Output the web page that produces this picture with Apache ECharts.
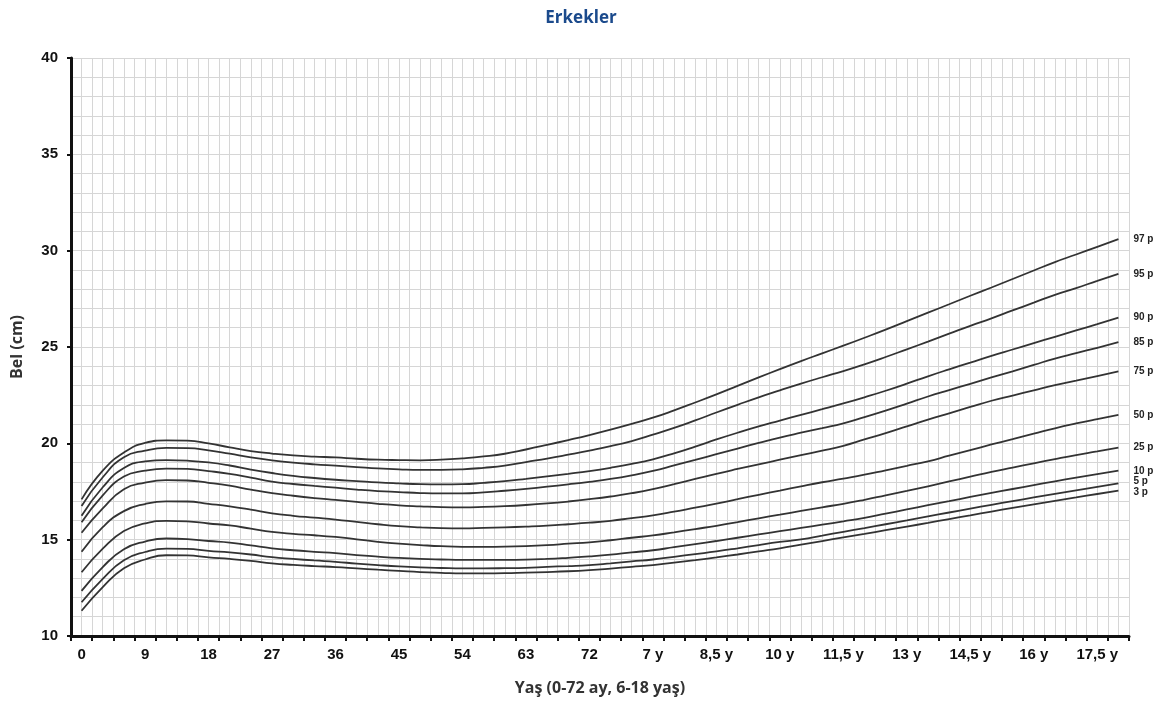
<!DOCTYPE html>
<html>
<head>
<meta charset="utf-8">
<script src="https://cdn.jsdelivr.net/npm/echarts@6/dist/echarts.min.js"></script>
<style>
html,body{margin:0;padding:0;background:#fff;}
#chart{width:1162px;height:703px;}
</style>
</head>
<body>
<div id="chart"></div>
<script>
// Categories: 0..72 months (step 3), then 6..18 years (step 0.5)
const monthCats = ["0","3","6","9","12","15","18","21","24","27","30","33","36","39","42","45","48","51","54","57","60","63","66","69","72"];
const yearCats = ["6 y","6,5 y","7 y","7,5 y","8 y","8,5 y","9 y","9,5 y","10 y","10,5 y","11 y","11,5 y","12 y","12,5 y","13 y","13,5 y","14 y","14,5 y","15 y","15,5 y","16 y","16,5 y","17 y","17,5 y","18 y"];
const categories = monthCats.concat(yearCats);

const yTicks = [10, 15, 20, 25, 30, 35, 40];

const p97 = [17.09,18.58,19.52,20.02,20.15,20.14,20.00,19.79,19.60,19.47,19.37,19.31,19.27,19.20,19.15,19.13,19.12,19.15,19.22,19.32,19.46,19.68,19.92,20.17,20.43,20.71,21.01,21.33,21.71,22.12,22.54,22.98,23.42,23.85,24.27,24.67,25.07,25.48,25.90,26.34,26.78,27.22,27.66,28.09,28.53,28.97,29.41,29.80,30.20,30.60];
const p95 = [16.75,18.24,19.28,19.62,19.76,19.75,19.64,19.46,19.27,19.12,19.00,18.91,18.84,18.77,18.70,18.65,18.62,18.62,18.65,18.73,18.84,19.03,19.21,19.41,19.62,19.85,20.12,20.45,20.80,21.19,21.60,22.00,22.39,22.75,23.10,23.43,23.75,24.10,24.48,24.88,25.28,25.69,26.10,26.49,26.90,27.30,27.71,28.06,28.43,28.79];
const p90 = [16.24,17.72,18.72,19.06,19.13,19.10,19.01,18.85,18.64,18.46,18.31,18.20,18.11,18.04,17.97,17.92,17.88,17.87,17.88,17.95,18.04,18.16,18.29,18.42,18.56,18.73,18.93,19.17,19.48,19.83,20.20,20.55,20.88,21.18,21.48,21.77,22.07,22.39,22.73,23.10,23.48,23.84,24.19,24.54,24.87,25.20,25.53,25.86,26.19,26.53];
const p85 = [15.90,17.30,18.28,18.58,18.69,18.67,18.56,18.42,18.22,18.01,17.89,17.79,17.70,17.60,17.52,17.47,17.42,17.40,17.40,17.45,17.54,17.64,17.75,17.87,18.00,18.15,18.34,18.57,18.85,19.14,19.44,19.73,20.02,20.30,20.55,20.79,21.04,21.36,21.70,22.06,22.43,22.76,23.09,23.42,23.74,24.07,24.40,24.68,24.96,25.25];
const p75 = [15.36,16.62,17.62,17.96,18.09,18.07,17.95,17.80,17.60,17.42,17.28,17.16,17.06,16.96,16.86,16.78,16.73,16.69,16.68,16.70,16.74,16.80,16.88,16.98,17.10,17.24,17.41,17.62,17.88,18.15,18.42,18.67,18.91,19.15,19.39,19.62,19.87,20.20,20.53,20.88,21.23,21.56,21.89,22.21,22.48,22.75,23.02,23.25,23.49,23.73];
const p50 = [14.37,15.65,16.48,16.85,16.99,16.98,16.86,16.73,16.56,16.37,16.24,16.14,16.04,15.92,15.80,15.70,15.64,15.60,15.59,15.61,15.64,15.68,15.73,15.80,15.88,15.98,16.12,16.26,16.45,16.66,16.87,17.10,17.33,17.55,17.77,17.98,18.17,18.37,18.60,18.83,19.07,19.36,19.65,19.94,20.22,20.50,20.78,21.03,21.26,21.48];
const p25 = [13.31,14.53,15.45,15.84,15.98,15.95,15.84,15.74,15.57,15.40,15.30,15.23,15.14,15.02,14.89,14.79,14.72,14.66,14.63,14.63,14.64,14.67,14.72,14.79,14.86,14.97,15.10,15.22,15.38,15.55,15.72,15.91,16.11,16.30,16.49,16.68,16.86,17.07,17.30,17.53,17.77,18.02,18.27,18.52,18.74,18.96,19.18,19.39,19.58,19.78];
const p10 = [12.34,13.58,14.50,14.90,15.06,15.03,14.93,14.85,14.70,14.55,14.45,14.37,14.30,14.20,14.12,14.05,14.00,13.97,13.95,13.95,13.95,13.96,14.00,14.06,14.13,14.22,14.34,14.45,14.61,14.77,14.93,15.10,15.27,15.44,15.61,15.78,15.95,16.13,16.35,16.57,16.79,17.00,17.22,17.43,17.63,17.83,18.03,18.22,18.40,18.58];
const p5 = [11.75,12.97,13.93,14.36,14.54,14.52,14.42,14.34,14.23,14.09,14.00,13.92,13.85,13.76,13.68,13.61,13.56,13.53,13.51,13.51,13.52,13.54,13.59,13.63,13.68,13.77,13.87,13.97,14.11,14.25,14.39,14.55,14.72,14.88,15.02,15.21,15.41,15.60,15.80,16.00,16.21,16.41,16.61,16.81,17.00,17.19,17.38,17.56,17.74,17.92];
const p3 = [11.31,12.54,13.52,13.97,14.19,14.18,14.08,14.00,13.90,13.77,13.69,13.63,13.58,13.51,13.44,13.38,13.32,13.28,13.25,13.25,13.26,13.29,13.32,13.36,13.42,13.50,13.59,13.68,13.81,13.94,14.08,14.23,14.39,14.55,14.74,14.93,15.12,15.30,15.49,15.68,15.87,16.07,16.26,16.46,16.65,16.83,17.01,17.19,17.37,17.54];

const seriesNames = ["97 p","95 p","90 p","85 p","75 p","50 p","25 p","10 p","5 p","3 p"];
const seriesData = [p97,p95,p90,p85,p75,p50,p25,p10,p5,p3];
// small vertical nudges so crowded end labels stay readable
const labelNudge = [0,0,0,0,0,0,0,1,-2,2];

const gridColor = '#d6d6d6';
const halfCats = [];
for (let i = 0; i < categories.length * 2; i++) halfCats.push(String(i));

const chart = echarts.init(document.getElementById('chart'), null, {renderer: 'canvas'});
chart.setOption({
  animation: false,
  backgroundColor: '#ffffff',
  title: {
    text: 'Erkekler',
    left: 'center',
    top: 5,
    textStyle: {fontFamily: 'Open Sans', fontWeight: 'bold', fontSize: 17, color: '#1b4a8c'}
  },
  grid: {left: 71, right: 33, top: 58, bottom: 67, containLabel: false, outerBoundsMode: 'none'},
  xAxis: [
    {
      type: 'category',
      data: categories,
      boundaryGap: true,
      name: 'Yaş (0-72 ay, 6-18 yaş)',
      nameLocation: 'middle',
      nameGap: 44,
      nameTextStyle: {fontFamily: 'Open Sans', fontWeight: 'bold', fontSize: 16, color: '#333'},
      axisLine: {show: true, onZero: false, lineStyle: {color: '#111', width: 3}},
      axisTick: {show: true, interval: 0, length: 5, lineStyle: {color: '#111', width: 2}},
      axisLabel: {interval: 2, margin: 11, fontFamily: 'Liberation Sans', fontWeight: 'bold', fontSize: 15, color: '#111'},
      splitLine: {show: false}
    },
    {
      type: 'category',
      data: halfCats,
      boundaryGap: true,
      position: 'bottom',
      axisLine: {show: false},
      axisTick: {show: false},
      axisLabel: {show: false},
      splitLine: {show: true, interval: 0, lineStyle: {color: gridColor, width: 1}}
    }
  ],
  yAxis: {
    type: 'value',
    min: yTicks[0],
    max: yTicks[yTicks.length - 1],
    interval: 5,
    name: 'Bel (cm)',
    nameLocation: 'middle',
    nameGap: 46,
    nameTextStyle: {fontFamily: 'Open Sans', fontWeight: 'bold', fontSize: 16, color: '#333'},
    axisLine: {show: true, lineStyle: {color: '#111', width: 3}},
    axisTick: {show: true, length: 4, lineStyle: {color: '#111', width: 2}},
    axisLabel: {margin: 13, fontFamily: 'Liberation Sans', fontWeight: 'bold', fontSize: 15, color: '#111'},
    splitLine: {show: true, lineStyle: {color: gridColor, width: 1}},
    minorTick: {show: false, splitNumber: 5},
    minorSplitLine: {show: true, lineStyle: {color: gridColor, width: 1}}
  },
  series: seriesNames.map((n, k) => ({
    name: n,
    type: 'line',
    xAxisIndex: 0,
    data: seriesData[k],
    smooth: true,
    symbol: 'none',
    lineStyle: {color: '#333', width: 1.8},
    endLabel: {
      show: true,
      formatter: '{a}',
      distance: 15,
      offset: [0, labelNudge[k]],
      fontFamily: 'Liberation Sans',
      fontWeight: 'bold',
      fontSize: 10,
      color: '#222'
    },
    z: 5
  }))
});
</script>
</body>
</html>
